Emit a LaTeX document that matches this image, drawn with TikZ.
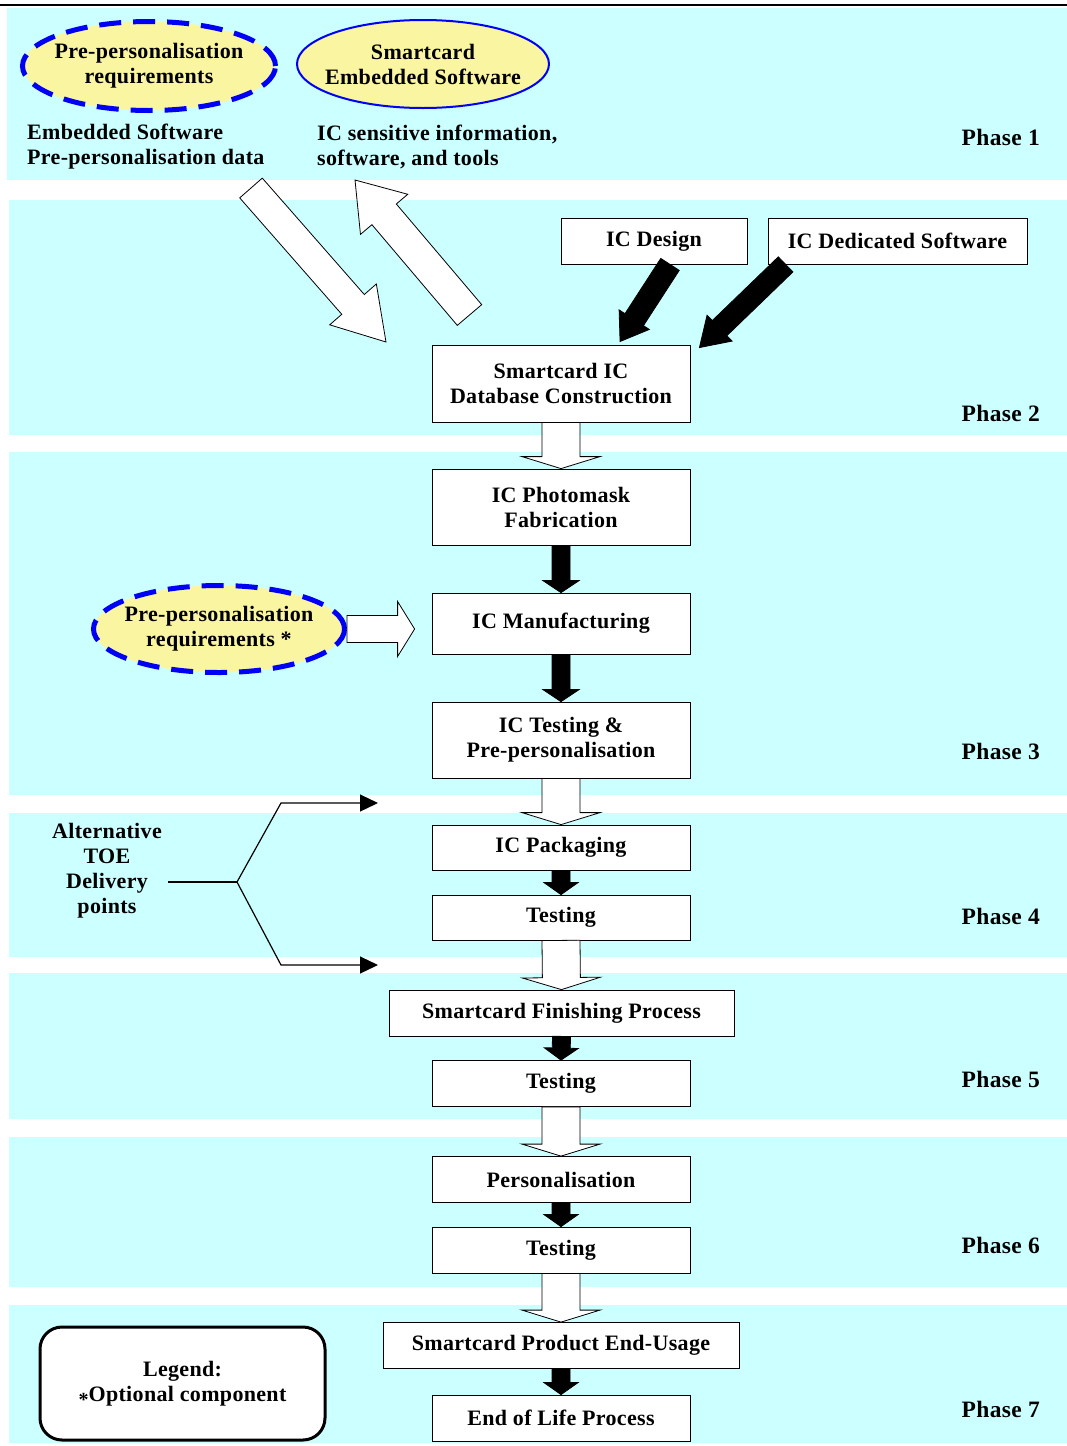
\documentclass[tikz,border=0pt]{standalone}
\usepackage{fontspec}
\setmainfont{Liberation Serif}[LetterSpace=1.5]
\usetikzlibrary{arrows.meta}
\usetikzlibrary{calc}
\usetikzlibrary{shapes}

\definecolor{bandcyan}{RGB}{204,255,255}
\definecolor{reqyellow}{RGB}{250,245,160}
\definecolor{reqblue}{RGB}{0,0,245}

% block arrow: fill, from, to, half shaft, half head, head length
\newcommand{\blockarrow}[6]{%
	\path let \p1 = ($(#3)-(#2)$), \n1 = {atan2(\y1,\x1)}, \n2 = {veclen(\x1,\y1)} in
		\pgfextra{\xdef\arrowangle{\n1}\xdef\arrowlength{\n2}};
	\filldraw[fill=#1, draw=black, line width=0.8pt, line join=miter, shift={(#2)}, rotate=\arrowangle]
		(0pt,-#4pt) -- (\arrowlength-#6pt,-#4pt) -- (\arrowlength-#6pt,-#5pt) -- (\arrowlength,0pt)
		-- (\arrowlength-#6pt,#5pt) -- (\arrowlength-#6pt,#4pt) -- (0pt,#4pt) -- cycle;
}

\begin{document}
\begin{tikzpicture}[x=1pt, y=-1pt, font=\bfseries\fontsize{22}{25}\selectfont]
	\tikzstyle{stepBox} = [draw, fill=white, line width=0.8pt, minimum width=258, minimum height=46, align=center, inner sep=2pt]
	\tikzstyle{reqStyle} = [ellipse, fill=reqyellow, draw=reqblue, align=center, inner ysep=0pt, inner xsep=-12pt]
	\tikzstyle{phaseStyle} = [anchor=east, inner sep=0pt, font=\bfseries\fontsize{23.5}{25}\selectfont]
	\tikzstyle{noteStyle} = [anchor=west, align=left, inner sep=0pt]
	\useasboundingbox (0,0) rectangle (1067,1446);
	% phase bands
	\draw[line width=1.5pt] (0,5) -- (1067,5);
	\fill[bandcyan] (7,8) rectangle (1067,180);
	\fill[bandcyan] (9,200) rectangle (1067,435);
	\fill[bandcyan] (9,452) rectangle (1067,795);
	\fill[bandcyan] (9,813) rectangle (1067,957);
	\fill[bandcyan] (9,973) rectangle (1067,1119);
	\fill[bandcyan] (9,1137) rectangle (1067,1287);
	\fill[bandcyan] (9,1305) rectangle (1067,1443);
	\node[phaseStyle] at (1040,137) {Phase 1};
	\node[phaseStyle] at (1040,413) {Phase 2};
	\node[phaseStyle] at (1040,751) {Phase 3};
	\node[phaseStyle] at (1040,916) {Phase 4};
	\node[phaseStyle] at (1040,1079) {Phase 5};
	\node[phaseStyle] at (1040,1245) {Phase 6};
	\node[phaseStyle] at (1040,1409) {Phase 7};
	% phase 1
	\node[reqStyle, minimum width=253, minimum height=89, line width=5pt, dash pattern=on 22pt off 12pt] (req1) at (149,66) {Pre-personalisation\\requirements};
	\node[reqStyle, minimum width=252, minimum height=88, line width=2pt] (sesw) at (423,64) {Smartcard\\Embedded Software};
	\node[noteStyle] (esdata) at (27,147) {Embedded Software\\Pre-personalisation data};
	\node[noteStyle] (icinfo) at (317,147) {IC sensitive information,\\software, and tools};
	% flow
	\node[stepBox, minimum width=186] (icd) at (654,241) {IC Design};
	\node[stepBox, minimum width=259] (icds) at (897.5,241) {IC Dedicated Software};
	\node[stepBox, minimum height=77] (dbc) at (561,383.5) {Smartcard IC\\Database Construction};
	\node[stepBox, minimum height=76] (mask) at (561,507) {IC Photomask\\Fabrication};
	\node[stepBox, minimum height=61] (mfg) at (561,623.5) {IC Manufacturing};
	\node[stepBox, minimum height=76] (ictest) at (561,740) {IC Testing \&\\Pre-personalisation};
	\node[stepBox, minimum height=45] (pack) at (561,847.5) {IC Packaging};
	\node[stepBox, minimum height=45] (packtest) at (561,917.5) {Testing};
	\node[stepBox, minimum width=345] (finish) at (561.5,1013) {Smartcard Finishing Process};
	\node[stepBox] (finishtest) at (561,1083.5) {Testing};
	\node[stepBox] (perso) at (561,1179.5) {Personalisation};
	\node[stepBox] (persotest) at (561,1250) {Testing};
	\node[stepBox, minimum width=356] (usage) at (561,1345.5) {Smartcard Product End-Usage};
	\node[stepBox] (eol) at (561,1418) {End of Life Process};
	\node[reqStyle, minimum width=251, minimum height=87, line width=5pt, dash pattern=on 22pt off 12pt] (req2) at (219,629) {Pre-personalisation\\requirements *};
	\node[align=center, inner sep=6pt] (toe) at (107,871) {Alternative\\TOE\\Delivery\\points};
	\node[draw, line width=3pt, rounded corners=22pt, fill=white, minimum width=285, minimum height=113, align=center] (legend) at (182.5,1383.5) {Legend:\\{\raisebox{-5pt}{\fontsize{20}{20}\selectfont *}}Optional component};
	% phase 1 <-> phase 2 exchange
	\coordinate (esout) at (251,188);
	\coordinate (dbin) at (386,342);
	\coordinate (dbout) at (469.5,315);
	\coordinate (icin) at (355,180);
	\blockarrow{white}{esout}{dbin}{15}{31}{50}
	\blockarrow{white}{dbout}{icin}{16}{31}{45}
	\blockarrow{black}{$(icd.south)+(16,0)$}{$(dbc.north)+(59,-3)$}{11}{18}{26}
	\blockarrow{black}{$(icds.south west)+(18,0)$}{$(dbc.north east)+(9,3)$}{10.5}{18}{28}
	% main flow
	\coordinate (mfgin) at ($(mfg.west)+(-17,0)$);
	\blockarrow{white}{req2.east}{req2.east -| mfgin}{13.5}{27.5}{17}
	\blockarrow{white}{dbc.south}{mask.north}{19}{39}{12}
	\blockarrow{black}{mask.south}{mfg.north}{9}{18}{12}
	\blockarrow{black}{mfg.south}{ictest.north}{9}{18}{12}
	\blockarrow{white}{ictest.south}{pack.north}{19}{39}{12}
	\blockarrow{black}{pack.south}{packtest.north}{9}{17}{12}
	\blockarrow{white}{packtest.south}{finish.north}{19}{39}{12}
	\blockarrow{black}{finish.south}{finishtest.north}{9}{17}{12}
	\blockarrow{white}{finishtest.south}{perso.north}{19}{39}{12}
	\blockarrow{black}{perso.south}{persotest.north}{9}{17}{12}
	\blockarrow{white}{persotest.south}{usage.north}{19}{39}{12}
	\blockarrow{black}{usage.south}{eol.north}{9}{17}{12}
	% delivery points
	\coordinate (fork) at (237,882);
	\coordinate (early) at (378,803);
	\coordinate (late) at (378,965);
	\draw[line width=1.2pt] (toe.east |- fork) -- (fork);
	\draw[line width=1.2pt, -{Triangle[length=18pt, width=17pt]}] (fork) -- (281,803) -- (early);
	\draw[line width=1.2pt, -{Triangle[length=18pt, width=17pt]}] (fork) -- (281,965) -- (late);
\end{tikzpicture}
\end{document}
